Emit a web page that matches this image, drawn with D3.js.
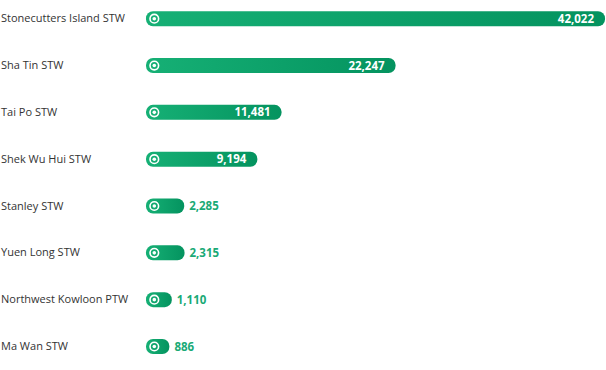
<!DOCTYPE html>
<html>
<head>
<meta charset="utf-8">
<script src="https://cdn.jsdelivr.net/npm/d3@7"></script>
<style>
body{margin:0;background:#fff;}
svg{display:block;font-family:"Open Sans","Noto Sans",sans-serif;}
</style>
</head>
<body>
<svg id="chart"></svg>
<script>
// data
var plants=["Stonecutters Island STW","Sha Tin STW","Tai Po STW","Shek Wu Hui STW","Stanley STW","Yuen Long STW","Northwest Kowloon PTW","Ma Wan STW"];
var flows=[42022,22247,11481,9194,2285,2315,1110,886];

var screen={width:606,height:370};
var barLeft=146, barH=15;

var svg=d3.select("#chart")
    .attr("width",screen.width)
    .attr("height",screen.height);

var grad=svg.append("defs").append("linearGradient")
    .attr("id","barGrad").attr("x1","0").attr("x2","1").attr("y1","0").attr("y2","0");
grad.append("stop").attr("offset","0%").attr("stop-color","#16b075");
grad.append("stop").attr("offset","100%").attr("stop-color","#04935f");

// bars keep a small stub width so the icon always fits
var xScale=d3.scaleLinear()
    .domain([0,d3.max(flows)])
    .range([14,459]);
var yScale=d3.scalePoint()
    .domain(plants)
    .range([18.7,346.5]);

var rows=svg.selectAll("g.row")
    .data(plants)
    .enter()
    .append("g")
    .classed("row",true)
    .attr("transform",function(d){return "translate(0,"+yScale(d)+")";});

rows.append("text")
    .attr("x",1)
    .attr("y",3.5)
    .attr("font-size",11)
    .attr("fill","#333")
    .text(function(d){return d;});

rows.append("rect")
    .attr("x",barLeft)
    .attr("y",-barH/2)
    .attr("height",barH)
    .attr("width",function(d,i){return xScale(flows[i]);})
    .attr("rx",7).attr("ry",7)
    .attr("fill","url(#barGrad)");

rows.append("circle")
    .attr("cx",barLeft+8.3)
    .attr("cy",0)
    .attr("r",4.3)
    .attr("fill","none")
    .attr("stroke","#fff")
    .attr("stroke-width",1.6);
rows.append("circle")
    .attr("cx",barLeft+8.3)
    .attr("cy",0)
    .attr("r",1.8)
    .attr("fill","#fff");

var fmt=d3.format(",");
rows.append("text")
    .attr("y",4)
    .attr("font-size",11.5)
    .attr("font-weight","bold")
    .attr("x",function(d,i){
        var end=barLeft+xScale(flows[i]);
        return flows[i]>5000 ? end-11 : end+5;
    })
    .attr("text-anchor",function(d,i){return flows[i]>5000?"end":"start";})
    .attr("fill",function(d,i){return flows[i]>5000?"#fff":"#1aaa76";})
    .text(function(d,i){return fmt(flows[i]);});
</script>
</body>
</html>
